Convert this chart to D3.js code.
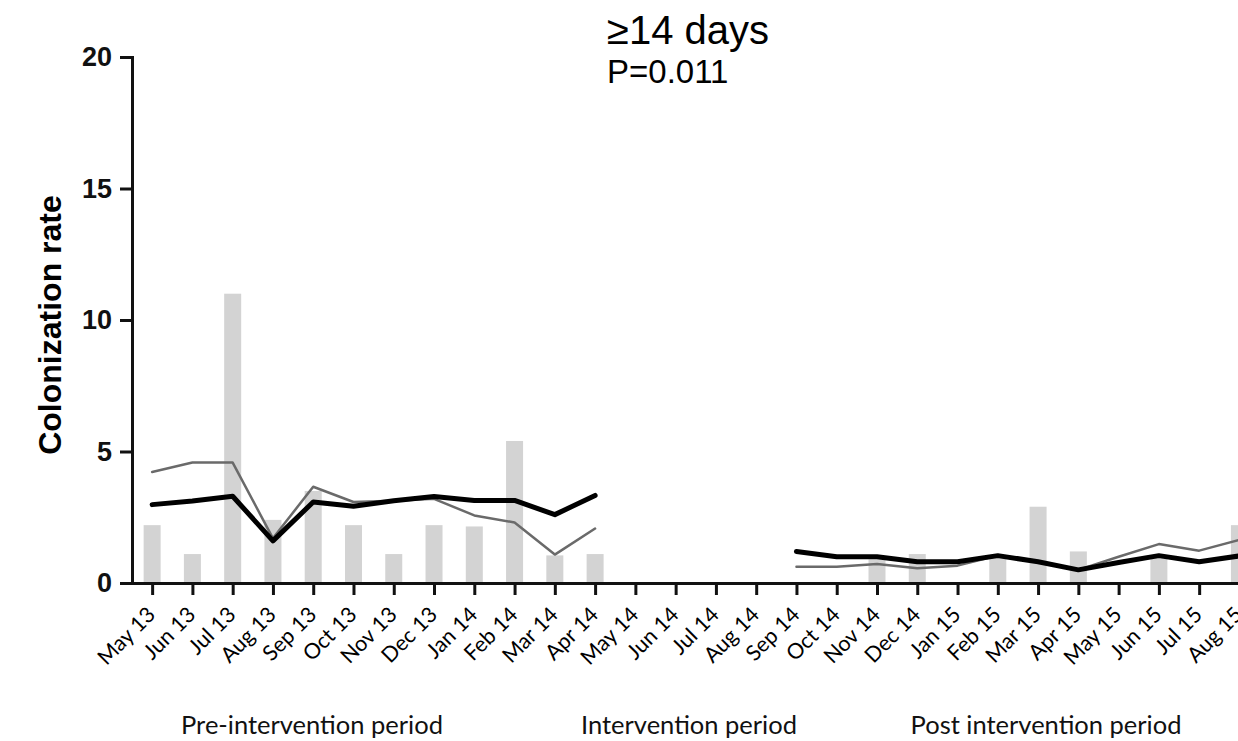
<!DOCTYPE html>
<html lang="en">
<head>
<meta charset="UTF-8">
<script src="https://d3js.org/d3.v7.min.js"></script>
<title>Colonization rate</title>
<style>
    body { margin: 0; background: #fff; }
    svg { display: block; }
    .axis path, .axis line { stroke: #111; stroke-width: 3; }
    .y.axis text { font: bold 27px "Liberation Sans", Arial, sans-serif; fill: #111; }
    .x.axis text { font: 21.5px Lato, "Open Sans", sans-serif; fill: #000; }
    .period { font: 25.5px Lato, "Open Sans", sans-serif; fill: #111; }
</style>
</head>
<body>
<div id="chart"></div>
<script>
// months on the x axis
const months = ["May 13", "Jun 13", "Jul 13", "Aug 13", "Sep 13", "Oct 13", "Nov 13", "Dec 13",
    "Jan 14", "Feb 14", "Mar 14", "Apr 14", "May 14", "Jun 14", "Jul 14", "Aug 14", "Sep 14",
    "Oct 14", "Nov 14", "Dec 14", "Jan 15", "Feb 15", "Mar 15", "Apr 15", "May 15", "Jun 15",
    "Jul 15", "Aug 15"];

// monthly colonization rate (grey bars)
const monthlyRate = [2.2, 1.1, 11.0, 2.4, 3.5, 2.2, 1.1, 2.2, 2.15, 5.4, 1.05, 1.1,
    0, 0, 0, 0, 0, 0, 0.9, 1.1, 0, 1.0, 2.9, 1.2, 0, 0.95, 0, 2.2];

// pre-intervention months and lines
const preMonths = months.slice(0, 12);
const trendPre = [2.98, 3.12, 3.3, 1.6, 3.08, 2.92, 3.13, 3.29, 3.14, 3.14, 2.6, 3.33];
const avgPre = [4.22, 4.58, 4.58, 1.7, 3.66, 3.08, 3.13, 3.2, 2.57, 2.3, 1.08, 2.07];

// post intervention months and lines
const postMonths = months.slice(16);
const trendPost = [1.2, 1.0, 1.0, 0.81, 0.81, 1.04, 0.81, 0.5, 0.78, 1.04, 0.81, 1.03];
const avgPost = [0.62, 0.62, 0.72, 0.56, 0.66, 1.04, 0.81, 0.5, 1.0, 1.48, 1.23, 1.64];

const yTicks = [0, 5, 10, 15, 20];
const periods = [
    { label: "Pre-intervention period", cx: 312 },
    { label: "Intervention period", cx: 689 },
    { label: "Post intervention period", cx: 1046 }
];

const width = 1238, height = 741;
const plotLeft = 132, plotTop = 57, plotBottom = 583, step = 40.27;

const svg = d3.select("#chart").append("svg")
    .attr("width", width)
    .attr("height", height);

const x = d3.scalePoint()
    .domain(months)
    .range([plotLeft, plotLeft + months.length * step])
    .padding(0.5);

const y = d3.scaleLinear()
    .domain([0, 20])
    .range([plotBottom, plotTop]);

// bars
svg.selectAll(".bar")
    .data(months.map((m, i) => ({ m, v: monthlyRate[i] })))
    .enter().append("rect")
    .attr("class", "bar")
    .attr("x", d => x(d.m) - 8.5)
    .attr("y", d => y(d.v))
    .attr("width", 17)
    .attr("height", d => y(0) - y(d.v))
    .attr("fill", "#d3d3d3");

const line = d3.line()
    .x(d => x(d[0]))
    .y(d => y(d[1]));

function drawLine(ms, vals, color, w) {
    svg.append("path")
        .datum(ms.map((m, i) => [m, vals[i]]))
        .attr("fill", "none")
        .attr("stroke", color)
        .attr("stroke-width", w)
        .attr("stroke-linejoin", "round")
        .attr("stroke-linecap", "round")
        .attr("d", line);
}

drawLine(preMonths, avgPre, "#6a6a6a", 2.5);
drawLine(postMonths, avgPost, "#6a6a6a", 2.5);
drawLine(preMonths, trendPre, "#000", 5);
drawLine(postMonths, trendPost, "#000", 5);

// x axis
svg.append("g")
    .attr("class", "x axis")
    .attr("transform", `translate(0,${plotBottom})`)
    .call(d3.axisBottom(x).tickSize(12).tickSizeOuter(0))
    .selectAll("text")
    .attr("x", 0)
    .attr("y", 0)
    .attr("dy", 0)
    .attr("transform", "translate(4,33) rotate(-45)")
    .style("text-anchor", "end");

// y axis
svg.append("g")
    .attr("class", "y axis")
    .attr("transform", `translate(${plotLeft},0)`)
    .call(d3.axisLeft(y).tickValues(yTicks).tickSize(12).tickSizeOuter(0).tickPadding(8));

svg.selectAll(".axis .domain").attr("stroke-linecap", "square");

// y axis title
svg.append("text")
    .attr("transform", "translate(61,325) rotate(-90)")
    .attr("text-anchor", "middle")
    .style("font", "bold 32px 'Liberation Sans', Arial, sans-serif")
    .text("Colonization rate");

// title
svg.append("text")
    .attr("x", 607).attr("y", 44)
    .style("font", "40px 'Liberation Sans', Arial, sans-serif")
    .text("≥14 days");
svg.append("text")
    .attr("x", 607).attr("y", 83)
    .style("font", "33px 'Liberation Sans', Arial, sans-serif")
    .text("P=0.011");

// period labels
svg.selectAll(".period")
    .data(periods)
    .enter().append("text")
    .attr("class", "period")
    .attr("x", d => d.cx)
    .attr("y", 734)
    .attr("text-anchor", "middle")
    .text(d => d.label);
</script>
</body>
</html>
